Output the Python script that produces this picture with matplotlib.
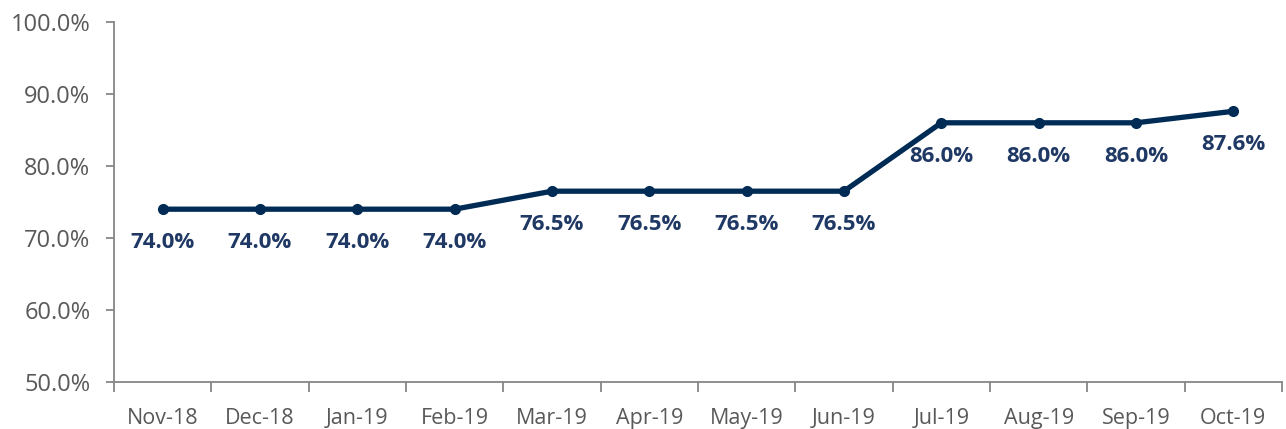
import matplotlib.pyplot as plt
from matplotlib.ticker import FuncFormatter, FixedLocator

months = ['Nov-18', 'Dec-18', 'Jan-19', 'Feb-19', 'Mar-19', 'Apr-19',
          'May-19', 'Jun-19', 'Jul-19', 'Aug-19', 'Sep-19', 'Oct-19']
values = [74.0, 74.0, 74.0, 74.0, 76.5, 76.5, 76.5, 76.5, 86.0, 86.0, 86.0, 87.6]

plt.rcParams['font.family'] = ['Open Sans', 'DejaVu Sans']

fig = plt.figure(figsize=(12.86, 4.29), dpi=100)
ax = fig.add_axes([0.0886, 0.1096, 0.9083, 0.8391])

x = list(range(len(months)))
ax.plot(x, values, color='#002b55', lw=3.8, marker='o', ms=7, solid_capstyle='round')
for xi, v in zip(x, values):
    ax.annotate(f'{v:.1f}%', (xi, v), xytext=(0, -24), textcoords='offset points',
                ha='center', va='center', fontsize=16, fontweight='bold', color='#1f3864')

ax.set_xlim(-0.5, len(months) - 0.5)
ax.set_ylim(50, 100)
ax.set_yticks(range(50, 101, 10))
ax.yaxis.set_major_formatter(FuncFormatter(lambda v, p: f'{v:.1f}%'))
ax.set_xticks(x)
ax.set_xticklabels(months)
ax.xaxis.set_minor_locator(FixedLocator([i - 0.5 for i in range(len(months) + 1)]))
ax.tick_params(axis='x', which='major', length=0, pad=19, labelsize=15.5, labelcolor='#595959')
ax.tick_params(axis='x', which='minor', length=7, width=1.3, color='#868686', direction='out')
ax.tick_params(axis='y', length=6, width=1.3, color='#868686', labelsize=17,
               labelcolor='#595959', pad=11)
for s in ['top', 'right']:
    ax.spines[s].set_visible(False)
for s in ['left', 'bottom']:
    ax.spines[s].set_color('#868686')
    ax.spines[s].set_linewidth(1.3)

fig.savefig('out.png', dpi=100)
